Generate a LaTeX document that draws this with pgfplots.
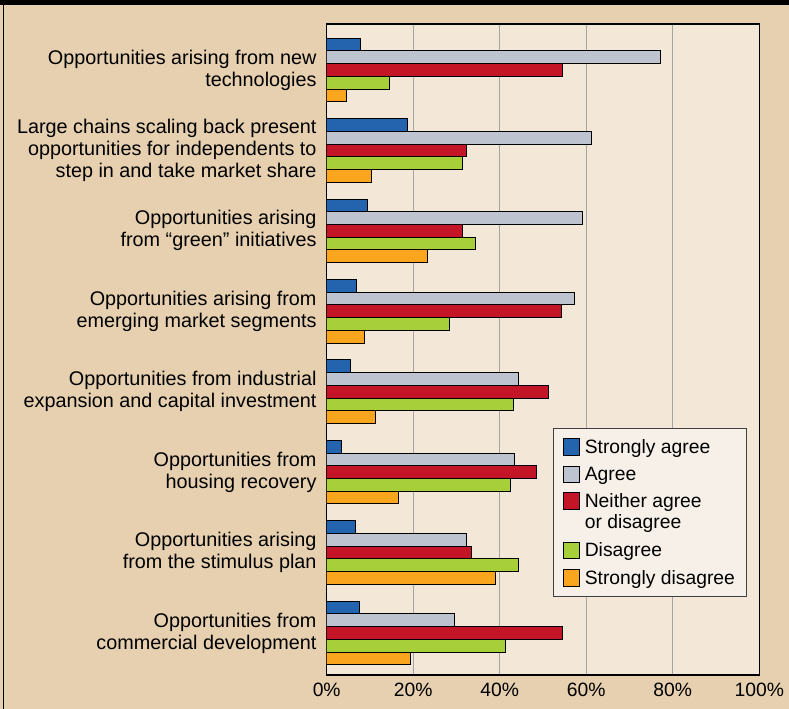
\documentclass[border=0pt]{standalone}
\usepackage{pgfplots}
\pgfplotsset{compat=1.18}
\usepackage{pgfplotstable}
\usepackage{fontspec}
\setmainfont{Liberation Sans}
\definecolor{outerbg}{HTML}{E6D0B0}
\definecolor{plotbg}{HTML}{F3E7D8}
\definecolor{legbg}{HTML}{F6F0E8}
\definecolor{cSA}{HTML}{2463AE}
\definecolor{cA}{HTML}{BEC4CF}
\definecolor{cN}{HTML}{C41526}
\definecolor{cD}{HTML}{A7CF3A}
\definecolor{cSD}{HTML}{F9A61E}
\definecolor{gridc}{HTML}{A4A4A4}

\pgfplotstableread{
cat SA A N D SD
0 7.8 77.2 54.6 14.5 4.6
1 18.7 61.1 32.3 31.3 10.4
2 9.5 59.2 31.3 34.4 23.3
3 6.8 57.3 54.3 28.4 8.7
4 5.5 44.4 51.2 43.1 11.3
5 3.5 43.4 48.5 42.4 16.6
6 6.6 32.4 33.4 44.3 39.0
7 7.6 29.5 54.6 41.3 19.4
}\datatable

\begin{document}
\begin{tikzpicture}
\useasboundingbox (0bp,0bp) rectangle (789bp,709bp);
\fill[outerbg] (0bp,0bp) rectangle (789bp,709bp);
\fill[black] (0bp,704bp) rectangle (789bp,709bp);
\draw[black, line width=1.2bp] (3.5bp,0bp) -- (3.5bp,709bp);
\begin{axis}[
  at={(326.7bp,34bp)}, anchor=south west,
  scale only axis, width=432.6bp, height=651bp,
  xbar, bar width=0.158,
  xmin=0, xmax=100, ymin=-0.572, ymax=7.522,
  y dir=reverse,
  axis background/.style={fill=plotbg},
  axis line style={black, line width=1.3bp},
  xmajorgrids, major grid style={gridc, line width=1.4bp},
  major tick length=0pt,
  xtick={0,20,40,60,80,100},
  xticklabels={0\%,20\%,40\%,60\%,80\%,100\%},
  xticklabel style={font=\fontsize{19.3bp}{22bp}\selectfont, inner sep=0pt, yshift=-8bp},
  ytick={0,1,2,3,4,5,6,7},
  yticklabels={
    {Opportunities arising from new\\technologies},
    {Large chains scaling back present\\opportunities for independents to\\step in and take market share},
    {Opportunities arising\\from “green” initiatives},
    {Opportunities arising from\\emerging market segments},
    {Opportunities from industrial\\expansion and capital investment},
    {Opportunities from\\housing recovery},
    {Opportunities arising\\from the stimulus plan},
    {Opportunities from\\commercial development}},
  yticklabel style={align=right, font=\fontsize{19.8bp}{22bp}\selectfont, inner sep=0pt, xshift=-10bp},
  every axis plot/.append style={draw=black, line width=1bp},
  legend image code/.code={\draw[#1, draw=black, line width=1bp] (0bp,-8.2bp) rectangle (16.4bp,8.2bp); \path[draw=none, fill=none] (0bp,0bp) -- (19.5bp,0bp);},
  legend cell align=left,
  legend style={at={(0.5238,0.3799)}, anchor=north west, draw=black!75, fill=legbg, line width=1bp,
    font=\fontsize{19.3bp}{21bp}\selectfont, inner xsep=9bp, inner ysep=6bp, row sep=2.2bp,
    nodes={inner xsep=2bp, inner ysep=5bp, align=left}},
]
\addplot[fill=cSA, bar shift=-0.316] table[x=SA, y=cat] {\datatable};
\addplot[fill=cA, bar shift=-0.158] table[x=A, y=cat] {\datatable};
\addplot[fill=cN, bar shift=0, legend image post style={yshift=11bp}] table[x=N, y=cat] {\datatable};
\addplot[fill=cD, bar shift=0.158] table[x=D, y=cat] {\datatable};
\addplot[fill=cSD, bar shift=0.316] table[x=SD, y=cat] {\datatable};
\legend{Strongly agree, Agree, {Neither agree\\or disa\smash{g}ree}, Disagree, Strongly disagree}
\end{axis}
\end{tikzpicture}
\end{document}
